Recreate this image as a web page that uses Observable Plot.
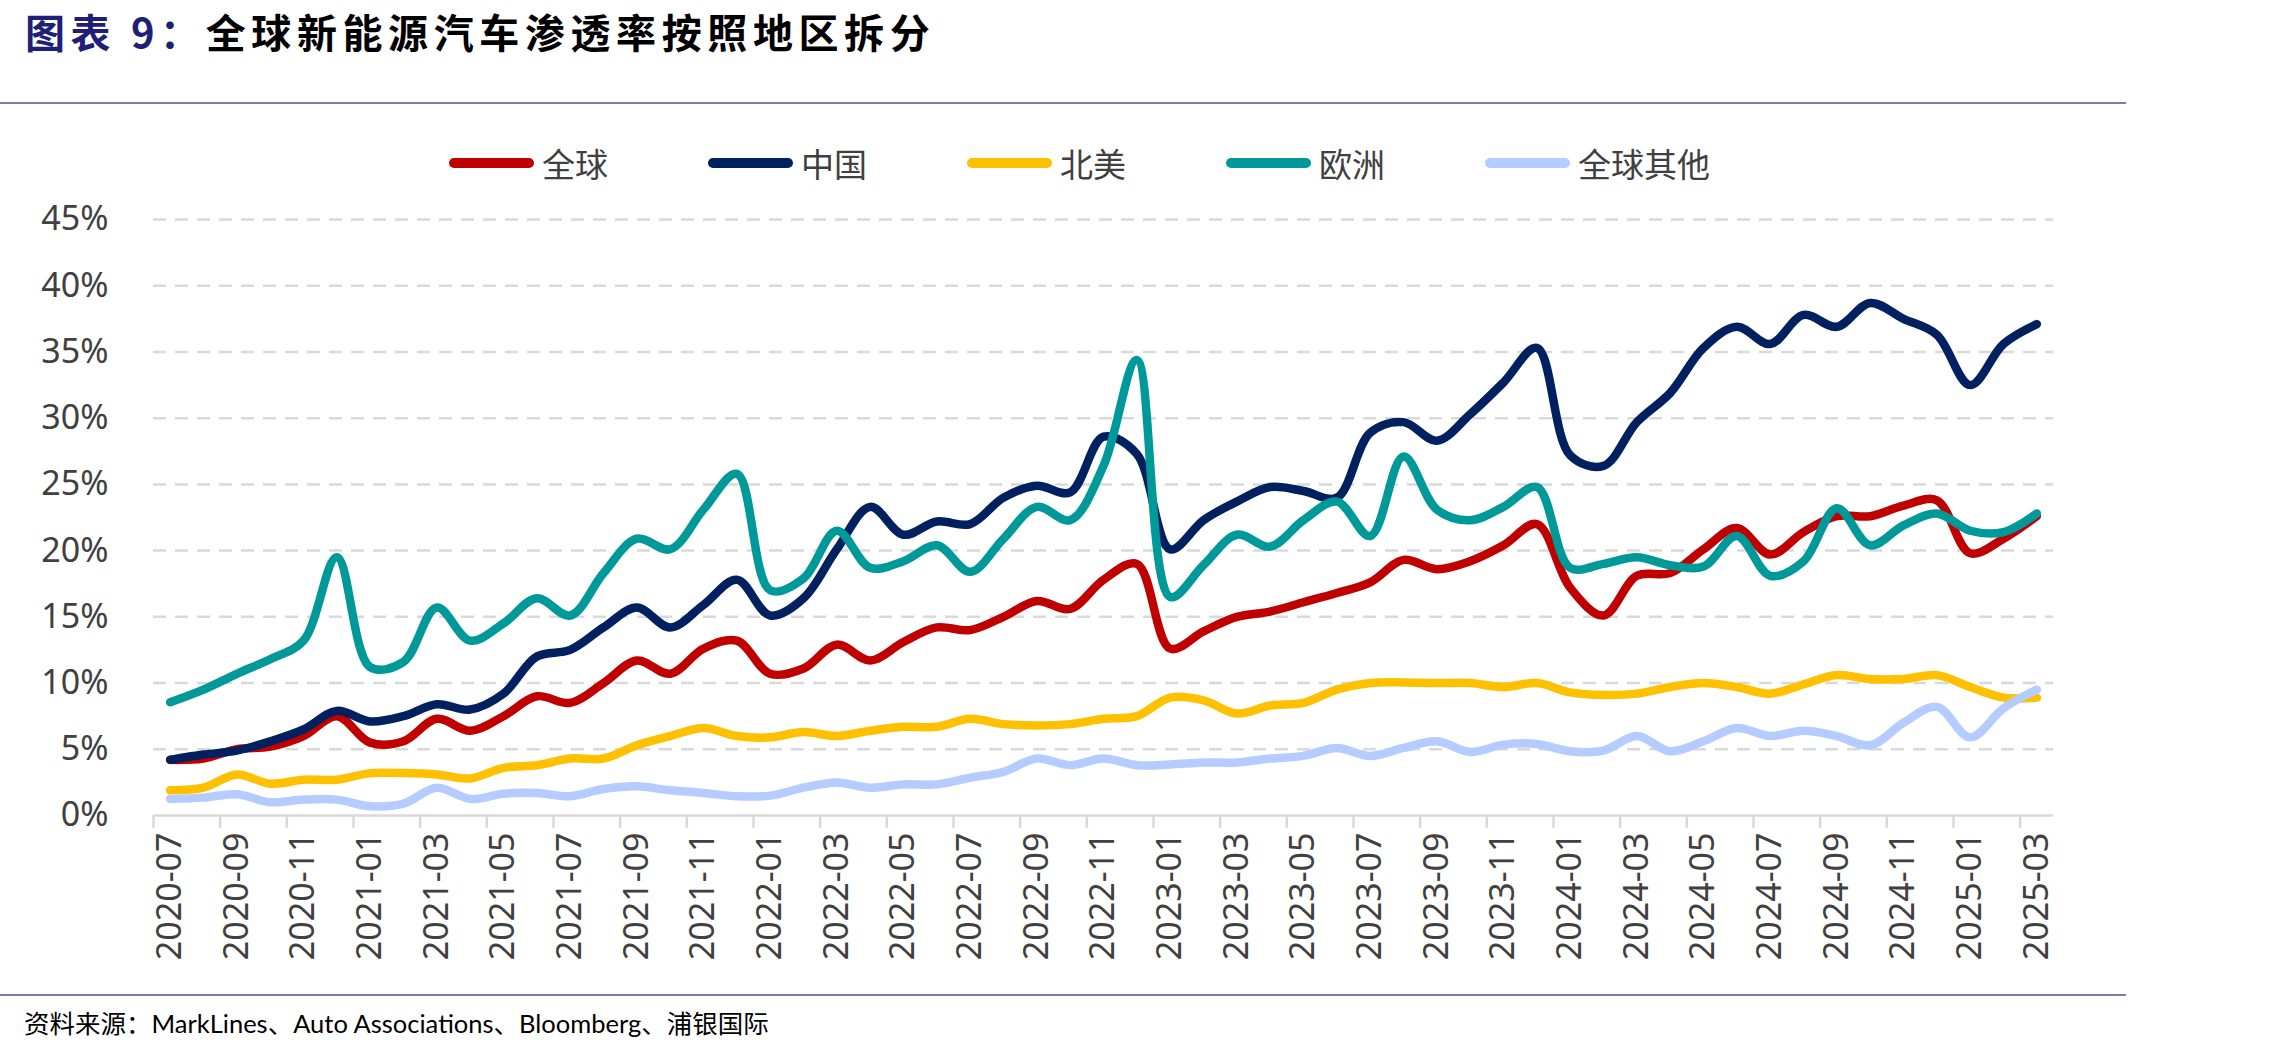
<!DOCTYPE html>
<html><head><meta charset="utf-8">
<script src="https://cdn.jsdelivr.net/npm/d3@7"></script>
<script src="https://cdn.jsdelivr.net/npm/@observablehq/plot@0.6"></script>
<style>
body{margin:0;background:#fff;}
#wrap{position:relative;width:2280px;height:1053px;overflow:hidden;background:#fff;}
#title{position:absolute;left:25px;top:8px;font-family:"Noto Sans CJK SC";font-weight:700;font-size:40px;letter-spacing:5.6px;line-height:46px;color:#000;white-space:nowrap;}
#title .lead{color:#1f1f78;}
.rule{position:absolute;left:0;width:2126px;height:2px;background:#7a7aae;}
#legend{position:absolute;left:449px;top:141px;height:44px;display:flex;}
.item{width:259px;display:flex;align-items:center;}
.sw{width:85px;height:10px;border-radius:5px;margin-right:8px;flex:none;}
.lab{font-family:"Noto Sans CJK SC";font-size:33px;color:#404040;white-space:nowrap;}
#chart{position:absolute;left:0;top:190px;}
#source{position:absolute;left:24px;top:1006px;font-family:Lato,"Noto Sans CJK SC";font-size:25.5px;line-height:34px;color:#000;white-space:nowrap;}
</style></head>
<body>
<div id="wrap">
  <div id="title"><span class="lead">图表 9：</span>全球新能源汽车渗透率按照地区拆分</div>
  <div class="rule" style="top:102px"></div>
  <div id="legend"></div>
  <div id="chart"></div>
  <div class="rule" style="top:994px"></div>
  <div id="source">资料来源：MarkLines、Auto Associations、Bloomberg、浦银国际</div>
</div>
<script>
const months = [
  "2020-07","2020-08","2020-09","2020-10","2020-11","2020-12",
  "2021-01","2021-02","2021-03","2021-04","2021-05","2021-06","2021-07","2021-08","2021-09","2021-10","2021-11","2021-12",
  "2022-01","2022-02","2022-03","2022-04","2022-05","2022-06","2022-07","2022-08","2022-09","2022-10","2022-11","2022-12",
  "2023-01","2023-02","2023-03","2023-04","2023-05","2023-06","2023-07","2023-08","2023-09","2023-10","2023-11","2023-12",
  "2024-01","2024-02","2024-03","2024-04","2024-05","2024-06","2024-07","2024-08","2024-09","2024-10","2024-11","2024-12",
  "2025-01","2025-02","2025-03"
];
const seriesNames = ["全球","中国","北美","欧洲","全球其他"];
const seriesColors = ["#C00000","#002060","#FFC000","#009999","#B4CCFF"];

const globalPen = [4.2,4.3,5.0,5.2,6.0,7.5,5.5,5.6,7.3,6.4,7.5,9.0,8.5,10.0,11.7,10.7,12.6,13.2,10.7,11.1,12.9,11.7,13.1,14.2,14.0,15.0,16.2,15.6,17.8,19.0,12.6,13.9,15.0,15.4,16.1,16.8,17.6,19.3,18.6,19.2,20.4,22.0,17.2,15.1,18.1,18.3,20.1,21.7,19.7,21.4,22.6,22.6,23.4,23.8,19.8,20.9,22.6];
const chinaPen = [4.2,4.6,4.9,5.6,6.5,7.9,7.1,7.5,8.4,8.0,9.2,12.0,12.5,14.2,15.7,14.2,15.9,17.8,15.1,16.4,20.1,23.3,21.2,22.2,22.0,24.0,24.9,24.4,28.6,27.3,20.1,22.3,23.7,24.8,24.5,24.0,28.9,29.7,28.3,30.3,32.7,35.3,27.2,26.4,29.7,31.9,35.3,36.9,35.6,37.8,36.9,38.7,37.5,36.3,32.5,35.6,37.1];
const northAmericaPen = [1.9,2.1,3.1,2.4,2.7,2.7,3.2,3.2,3.1,2.8,3.6,3.8,4.3,4.3,5.3,6.0,6.6,6.0,5.9,6.3,6.0,6.4,6.7,6.7,7.3,6.9,6.8,6.9,7.3,7.5,8.9,8.7,7.7,8.3,8.5,9.5,10.0,10.05,10.0,10.0,9.7,10.0,9.3,9.1,9.2,9.7,10.0,9.7,9.2,9.9,10.6,10.3,10.3,10.6,9.7,8.9,8.9];
const europePen = [8.55,9.5,10.7,11.8,13.2,19.5,11.2,11.6,15.7,13.2,14.5,16.4,15.1,18.3,20.9,20.1,23.1,25.8,17.0,17.9,21.5,18.7,19.2,20.4,18.4,20.9,23.3,22.3,26.4,34.4,16.5,18.9,21.2,20.3,22.3,23.7,21.1,27.1,23.1,22.3,23.3,24.8,18.7,19.0,19.5,18.9,18.8,21.1,18.1,19.2,23.2,20.4,21.9,22.8,21.5,21.4,22.8];
const restPen = [1.25,1.35,1.6,1.0,1.2,1.2,0.7,0.9,2.1,1.25,1.65,1.7,1.45,2.0,2.2,1.9,1.7,1.45,1.5,2.1,2.5,2.1,2.35,2.35,2.85,3.3,4.3,3.8,4.3,3.8,3.85,4.0,4.0,4.3,4.5,5.1,4.5,5.1,5.6,4.8,5.35,5.4,4.85,4.9,6.0,4.85,5.6,6.6,6.0,6.4,6.0,5.3,7.0,8.2,5.9,8.1,9.5];
const seriesValues = [globalPen, chinaPen, northAmericaPen, europePen, restPen];

const yTicks = [0,5,10,15,20,25,30,35,40,45];
const labelIdx = months.map((m,i)=>i).filter(i=>i%2===0);
const boundaryIdx = labelIdx.map(i=>i-0.5);

// legend
const legend = document.getElementById("legend");
seriesNames.forEach((n,k)=>{
  const it = document.createElement("div"); it.className="item";
  it.innerHTML = `<div class="sw" style="background:${seriesColors[k]}"></div><div class="lab">${n}</div>`;
  legend.appendChild(it);
});

const rows = seriesValues.map((vals,s)=>vals.map((v,i)=>({i, month:months[i], v, series:seriesNames[s]})));

const chart = Plot.plot({
  width:2280, height:800,
  marginTop:29, marginBottom:175, marginLeft:153, marginRight:227,
  x:{domain:[-0.5, months.length-0.5]},
  y:{domain:[0,45]},
  style:{fontFamily:"'Noto Sans', sans-serif", fontSize:"34px", color:"#404040", background:"#fff"},
  marks:[
    Plot.ruleY(yTicks.filter(d=>d>0), {stroke:"#d9d9d9", strokeWidth:2.5, strokeDasharray:"13,9"}),
    Plot.ruleY([0], {stroke:"#d9d9d9", strokeWidth:2.5}),
    Plot.axisX(boundaryIdx, {tickSize:13, tickFormat:()=>"", stroke:"#d9d9d9", strokeWidth:2.5, label:null}),
    Plot.axisX(labelIdx, {tickSize:0, tickPadding:17, tickRotate:-90, tickFormat:i=>months[i], fill:"#404040", fontSize:34, label:null}),
    Plot.axisY(yTicks, {tickSize:0, tickPadding:45, tickFormat:d=>d+"%", fill:"#404040", fontSize:34, label:null}),
    ...rows.map((r,s)=>Plot.line(r, {x:"i", y:"v", stroke:seriesColors[s], strokeWidth:8.5, curve:"catmull-rom", strokeLinecap:"round", strokeLinejoin:"round"}))
  ]
});
document.getElementById("chart").appendChild(chart);
</script>
</body></html>
